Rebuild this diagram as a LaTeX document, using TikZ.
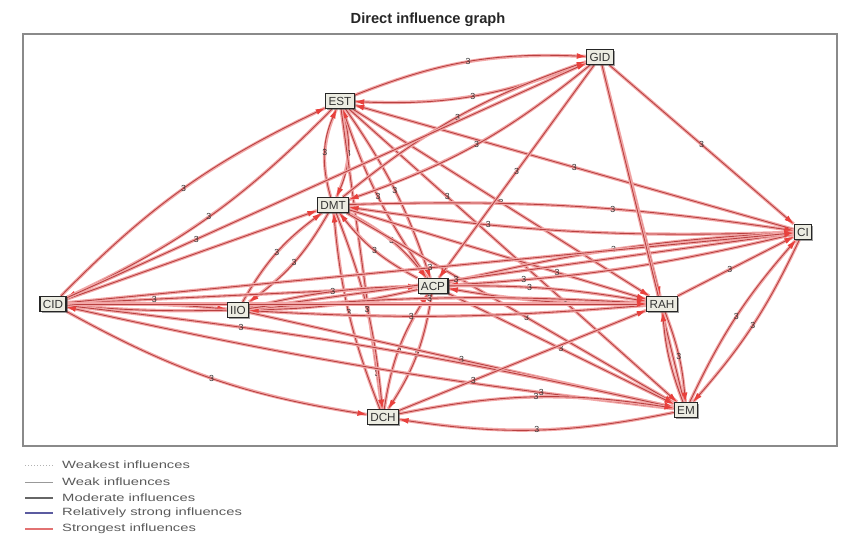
\documentclass[tikz,border=0pt]{standalone}
\usepackage{fontspec}
\setmainfont{Liberation Sans}
\newfontfamily\legfont[FakeStretch=1.4]{Liberation Sans}
\usepackage{tikz}
\usetikzlibrary{arrows.meta,positioning,backgrounds,shadows}
\definecolor{micRed}{HTML}{B84040}
\definecolor{micGlow}{HTML}{F2A8A8}
\definecolor{micTip}{HTML}{E8403C}
\definecolor{micBox}{HTML}{ECECE2}
\definecolor{micFrame}{HTML}{8A8A8A}
\definecolor{micText}{HTML}{5A5A5A}
\definecolor{micBlue}{HTML}{5B5BA0}
\definecolor{micPink}{HTML}{E27272}

\begin{document}
\begin{tikzpicture}[x=0.03cm,y=0.03cm,
    vbox/.style={draw=black!85,line width=0.9pt,fill=micBox,text=black!80,
                 font=\fontsize{10}{12}\selectfont,inner xsep=2.5pt,inner ysep=1.5pt,
                 minimum height=0.45cm,
                 drop shadow={shadow xshift=1.3pt,shadow yshift=-1.3pt,fill=black!75}},
    infl/.style={draw=micRed,line width=0.75pt,
                 -{Latex[length=8pt,width=5pt,color=micTip]},
                 preaction={draw=micGlow,line width=2.8pt,-}},
    lbl/.style={font=\fontsize{7.5}{8}\selectfont,text=black!80,inner sep=1pt},
    legtxt/.style={anchor=west,text=micText,font=\legfont\fontsize{9}{11}\selectfont,inner sep=0pt}]

  \useasboundingbox (0,0) rectangle (841,-545);

  % title and frame
  \node[font=\bfseries\fontsize{12.5}{15}\selectfont,text=black!85] (title) at (428,-20) {Direct influence graph};
  \draw[micFrame,line width=1.2pt] (23,-34) rectangle (837,-446);

  % variables
  \node[vbox] (GID) at (600,-57)  {GID};
  \node[vbox] (EST) at (340,-101) {EST};
  \node[vbox] (DMT) at (333,-205) {DMT};
  \node[vbox] (CI)  at (803,-232) {CI};
  \node[vbox] (CID) at (53,-304)  {CID};
  \node[vbox] (IIO) at (238,-310) {IIO};
  \node[vbox] (ACP) at (433,-286) {ACP};
  \node[vbox] (RAH) at (662,-304) {RAH};
  \node[vbox] (DCH) at (383,-417) {DCH};
  \node[vbox] (EM)  at (686,-410) {EM};

  \begin{scope}[on background layer]
  % EST
  \draw[infl] (EST) to[bend left=12] node[lbl]{3} (GID);
  \draw[infl] (GID) to[bend left=12] node[lbl]{3} (EST);
  \draw[infl] (CID) to[bend left=10] node[lbl]{3} (EST);
  \draw[infl] (EST) to[bend left=10] node[lbl]{3} (CID);
  \draw[infl] (EST) to[bend left=20] node[lbl]{3} (DMT);
  \draw[infl] (DMT) to[bend left=20] node[lbl]{3} (EST);
  \draw[infl] (EST) to[bend left=8] node[lbl]{3} (ACP);
  \draw[infl] (ACP) to[bend left=8] node[lbl]{3} (EST);
  \draw[infl] (EST) -- node[lbl,pos=.88]{3} (DCH);
  \draw[infl] (EST) -- node[lbl,pos=.3]{3} (EM);
  \draw[infl] (EST) -- node[lbl]{3} (RAH);
  \draw[infl] (CI) -- node[lbl]{3} (EST);
  % DMT
  \draw[infl] (CID) -- (DMT);
  \draw[infl] (IIO) to[bend left=12] node[lbl]{3} (DMT);
  \draw[infl] (DMT) to[bend left=12] node[lbl]{3} (IIO);
  \draw[infl] (GID) to[bend left=10] node[lbl]{3} (DMT);
  \draw[infl] (DMT) to[bend left=10] node[lbl]{3} (GID);
  \draw[infl] (DMT) to[bend left=12] node[lbl]{3} (ACP);
  \draw[infl] (ACP) to[bend left=12] node[lbl]{3} (DMT);
  \draw[infl] (DMT) to[bend left=8] node[lbl]{3} (DCH);
  \draw[infl] (DCH) to[bend left=8] node[lbl]{3} (DMT);
  \draw[infl] (DMT) to[bend left=5] node[lbl,pos=.6]{3} (CI);
  \draw[infl] (CI) to[bend left=5] node[lbl,pos=.7]{3} (DMT);
  \draw[infl] (DMT) -- node[lbl,pos=.7]{3} (RAH);
  \draw[infl] (DMT) -- node[lbl,pos=.55]{3} (EM);
  % ACP
  \draw[infl] (CID) -- node[lbl,pos=.25]{3} (ACP);
  \draw[infl] (IIO) to[bend left=6] node[lbl]{3} (ACP);
  \draw[infl] (ACP) to[bend left=6] (IIO);
  \draw[infl] (GID) -- node[lbl]{3} (ACP);
  \draw[infl] (ACP) to[bend left=5] node[lbl,pos=.48]{3} (CI);
  \draw[infl] (CI) to[bend left=5] node[lbl,pos=.8]{3} (ACP);
  \draw[infl] (ACP) to[bend left=5] node[lbl,pos=.4]{3} (RAH);
  \draw[infl] (RAH) to[bend left=5] node[lbl,pos=.4]{3} (ACP);
  \draw[infl] (ACP) to[bend left=12] node[lbl]{3} (DCH);
  \draw[infl] (DCH) to[bend left=12] node[lbl]{3} (ACP);
  \draw[infl] (ACP) -- node[lbl]{3} (EM);
  % IIO
  \draw[infl] (CID) to[bend left=3] (IIO);
  \draw[infl] (IIO) to[bend left=3] (CID);
  \draw[infl] (IIO) to[bend left=4] node[lbl,pos=.45]{3} (RAH);
  \draw[infl] (RAH) to[bend left=4] node[lbl,pos=.6]{3} (IIO);
  \draw[infl] (IIO) -- node[lbl]{3} (EM);
  \draw[infl] (IIO) -- node[lbl,pos=.38]{3} (CI);
  % CID
  \draw[infl] (CID) -- node[lbl,pos=.25]{3} (GID);
  \draw[infl] (CID) -- node[lbl]{3} (CI);
  \draw[infl] (CID) -- (RAH);
  \draw[infl] (CID) to[bend left=3] node[lbl,pos=.27]{3} (EM);
  \draw[infl] (EM) to[bend left=3] node[lbl,pos=.2]{3} (CID);
  \draw[infl] (CID) to[bend right=10] node[lbl]{3} (DCH);
  % CI, RAH, EM, DCH
  \draw[infl] (GID) -- node[lbl]{3} (CI);
  \draw[infl] (GID) -- (RAH);
  \draw[infl] (GID) -- (EM);
  \draw[infl] (RAH) -- node[lbl,pos=.45]{3} (CI);
  \draw[infl] (CI) to[bend left=8] node[lbl]{3} (EM);
  \draw[infl] (EM) to[bend left=8] node[lbl]{3} (CI);
  \draw[infl] (RAH) to[bend left=8] node[lbl]{3} (EM);
  \draw[infl] (EM) to[bend left=8] (RAH);
  \draw[infl] (DCH) to[bend left=10] node[lbl]{3} (EM);
  \draw[infl] (EM) to[bend left=10] node[lbl]{3} (DCH);
  \draw[infl] (DCH) -- node[lbl,pos=.3]{3} (RAH);
  \end{scope}

  % legend
  \node[legtxt] (lg1) at (62,-465) {Weakest influences};
  \node[legtxt] (lg2) at (62,-482) {Weak influences};
  \node[legtxt] (lg3) at (62,-498) {Moderate influences};
  \node[legtxt] (lg4) at (62,-513) {Relatively strong influences};
  \node[legtxt] (lg5) at (62,-529) {Strongest influences};
  \draw[black!30,dotted,line width=0.6pt] (25,-465) -- (53,-465);
  \draw[black!40,line width=0.6pt] (25,-482) -- (53,-482);
  \draw[black!60,line width=0.9pt] (25,-498) -- (53,-498);
  \draw[micBlue,line width=1.3pt] (25,-513) -- (53,-513);
  \draw[micPink,line width=1.3pt] (25,-529) -- (53,-529);
\end{tikzpicture}
\end{document}
